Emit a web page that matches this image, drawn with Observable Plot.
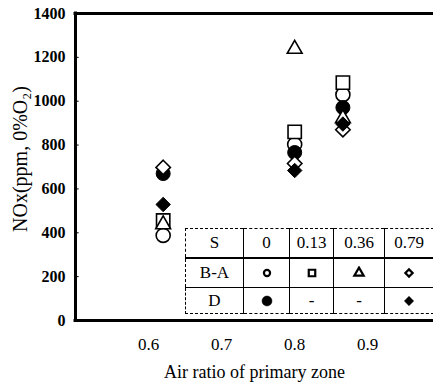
<!DOCTYPE html>
<html><head><meta charset="utf-8">
<script src="https://cdn.jsdelivr.net/npm/d3@7"></script>
<script src="https://cdn.jsdelivr.net/npm/@observablehq/plot@0.6"></script>
<style>
html,body{margin:0;padding:0;background:#fff;}
#wrap{position:relative;width:433px;height:382px;font-family:"Liberation Serif",serif;color:#000;}
#legend{position:absolute;left:185px;top:228px;width:243px;height:85px;border-collapse:collapse;table-layout:fixed;border:1px dashed #000;font-size:17px;background:#fff;}
#legend td{border-left:1px solid #000;border-top:1px solid #000;text-align:center;vertical-align:middle;padding:0;line-height:1;}
#legend tr:first-child td{border-top:none;}
#legend tr:nth-child(2) td{border-top:2px solid #000;}
#legend td:first-child{border-left:none;}
#legend svg{display:block;margin:0 auto;}
</style></head>
<body><div id="wrap"></div>
<script>
// Data
const airRatio = [0.62, 0.80, 0.866];
const baS0   = [388, 803, 1030];   // B-A, S=0 (open circle)
const baS013 = [456, 860, 1085];   // B-A, S=0.13 (open square)
const baS036 = [438, 1238, 922];   // B-A, S=0.36 (open triangle)
const baS079 = [698, 716, 870];    // B-A, S=0.79 (open diamond)
const dS0    = [670, 766, 971];    // D, S=0 (filled circle)
const dS079  = [529, 684, 896];    // D, S=0.79 (filled diamond)
const xTicks = [0.6, 0.7, 0.8, 0.9];
const yTicks = [0, 200, 400, 600, 800, 1000, 1200, 1400];
const sValues = ["0", "0.13", "0.36", "0.79"];
const xLabel = "Air ratio of primary zone";
const yLabel = "NOx(ppm, 0%O\u2082)";

const open = {fill: "white", stroke: "black", strokeWidth: 1.6};
const solid = {fill: "black", stroke: "black", strokeWidth: 1};

const chart = Plot.plot({
  width: 433, height: 382,
  marginLeft: 75, marginRight: 0, marginTop: 13, marginBottom: 62,
  style: {fontFamily: '"Liberation Serif", serif', fontSize: "16px", color: "#000", background: "#fff"},
  x: {domain: [0.5, 0.99]},
  y: {domain: [0, 1400]},
  marks: [
    Plot.axisX({ticks: xTicks, tickSize: 0, tickPadding: 17, tickFormat: d => d.toFixed(1), label: null, fontSize: 17}),
    Plot.axisY({ticks: yTicks, tickSize: 0, tickPadding: 10, tickFormat: d => String(d), label: null, fontWeight: "bold"}),
    Plot.ruleY(yTicks.slice(1, -1), {x1: 0.5, x2: 0.505, strokeWidth: 1}),
    Plot.ruleY([0], {strokeWidth: 3, strokeLinecap: "square"}),
    Plot.ruleY([1400], {strokeWidth: 3, strokeLinecap: "square"}),
    Plot.ruleX([0.5], {strokeWidth: 3, strokeLinecap: "square"}),
    Plot.dot(baS0, {x: airRatio, y: baS0, symbol: "circle", r: 7, ...open}),
    Plot.dot(baS013, {x: airRatio, y: baS013, symbol: "square", r: 7.5, ...open}),
    Plot.dot(dS0, {x: airRatio, y: dS0, symbol: "circle", r: 7, ...solid}),
    Plot.dot(baS036, {x: airRatio, y: baS036, symbol: "triangle", r: 5.5, ...open}),
    Plot.dot(baS079, {x: airRatio, y: baS079, symbol: "diamond2", r: 6.5, ...open}),
    Plot.dot(dS079, {x: airRatio, y: dS079, symbol: "diamond2", r: 6.5, ...solid}),
    Plot.text([xLabel], {text: d => d, frameAnchor: "bottom", dy: 52, lineAnchor: "middle", textAnchor: "middle", fontSize: 18}),
    Plot.text([yLabel], {text: d => d, frameAnchor: "left", rotate: -90, dx: -55, dy: -8, textAnchor: "middle", lineAnchor: "middle", fontSize: 20})
  ]
});
const wrap = document.getElementById("wrap");
wrap.appendChild(chart);

function sym(type, size, filled) {
  const p = d3.symbol(type, size)();
  return `<svg width="14" height="14" viewBox="-7 -7 14 14"><path d="${p}" fill="${filled ? "black" : "white"}" stroke="black" stroke-width="${filled ? 0.5 : 2.2}"/></svg>`;
}
const baSyms = [sym(d3.symbolCircle, 30, false), sym(d3.symbolSquare, 42, false), sym(d3.symbolTriangle, 38, false), sym(d3.symbolDiamond2, 34, false)];
const dSyms = [sym(d3.symbolCircle, 78, true), "-", "-", sym(d3.symbolDiamond2, 56, true)];

const table = document.createElement("table");
table.id = "legend";
const widths = [57, 45, 43, 50, 48];
const heights = [29, 30, 26];
const rows = [["S", ...sValues], ["B-A", ...baSyms], ["D", ...dSyms]];
rows.forEach((r, i) => {
  const tr = document.createElement("tr");
  tr.style.height = heights[i] + "px";
  r.forEach((c, j) => {
    const td = document.createElement("td");
    td.style.width = widths[j] + "px";
    td.innerHTML = c;
    tr.appendChild(td);
  });
  table.appendChild(tr);
});
wrap.appendChild(table);
</script>
</body></html>
